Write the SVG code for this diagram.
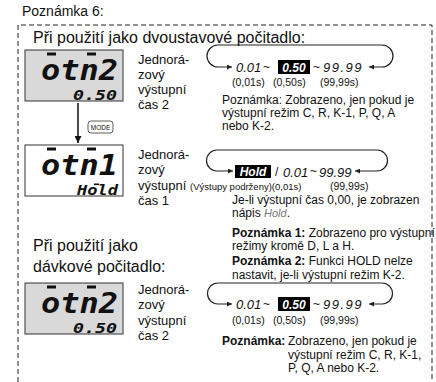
<svg xmlns="http://www.w3.org/2000/svg" width="436" height="382" viewBox="0 0 436 382">
<style>
.t{font-family:"Liberation Sans",Arial,sans-serif;fill:#111}
.h{font-size:16px}
.lb{font-size:13px}
.n{font-size:12px}
.p{font-size:10.5px}
.s{font-size:9.5px}
.b{font-weight:bold}
.seg{font-family:"DejaVu Sans Mono",monospace;font-style:oblique;font-weight:bold;fill:#111}
.v{font-family:"Liberation Sans",Arial,sans-serif;font-style:italic;font-size:13px;fill:#111}
.vw{font-family:"Liberation Sans",Arial,sans-serif;font-style:italic;font-weight:bold;font-size:12px;fill:#fff}
.disp{stroke:#333;stroke-width:1}
.gray{fill:#d9d9d9}
.white{fill:#fff}
.bar{fill:#111}
.loop{fill:none;stroke:#222;stroke-width:1.2;marker-start:url(#ah);marker-end:url(#ah)}
</style>
<defs>
<marker id="ah" viewBox="0 0 10 10" refX="10" refY="5" markerWidth="6" markerHeight="5" markerUnits="userSpaceOnUse" orient="auto-start-reverse">
<path d="M0,0 L10,5 L0,10 z" fill="#222"/>
</marker>
<marker id="ad" viewBox="0 0 10 10" refX="10" refY="5" markerWidth="8" markerHeight="7" markerUnits="userSpaceOnUse" orient="auto">
<path d="M0,0 L10,5 L0,10 z" fill="#111"/>
</marker>
</defs>

<text class="t" x="22" y="16" font-size="14">Poznámka 6:</text>
<path d="M18,382 V25 H432 V382" fill="none" stroke="#222" stroke-width="1" stroke-dasharray="5,3"/>
<text class="t h" x="33" y="43">Při použití jako dvoustavové počitadlo:</text>

<g id="display1">
<rect class="disp gray" x="25" y="50" width="98" height="51"/>
<rect class="bar" x="47" y="52.5" width="9" height="3"/>
<rect class="bar" x="87" y="52.5" width="9" height="3"/>
<text class="seg" x="41" y="80" font-size="28" textLength="77" lengthAdjust="spacingAndGlyphs">otn2</text>
<text class="seg" x="73" y="99.5" font-size="13.5" textLength="44" lengthAdjust="spacingAndGlyphs">0.50</text>
</g>
<g id="label1">
<text class="t lb" x="138" y="64">Jednorá-</text>
<text class="t lb" x="138" y="79">zový</text>
<text class="t lb" x="138" y="94">výstupní</text>
<text class="t lb" x="138" y="109">čas 2</text>
</g>

<g id="cycle1">
<text class="v" x="236" y="72">0.01</text>
<text class="t" x="263" y="71" font-size="12">~</text>
<rect x="278" y="60" width="32" height="14" fill="#000"/>
<text class="vw" x="294" y="71.5" text-anchor="middle">0.50</text>
<text class="t" x="313" y="71" font-size="12">~</text>
<text class="v" x="323" y="72" letter-spacing="1.5">99.99</text>
<text class="t p" x="232" y="86">(0,01s)</text>
<text class="t p" x="273" y="86">(0,50s)</text>
<text class="t p" x="320" y="86">(99,99s)</text>
</g>
<g id="note1">
<text class="t n" x="222" y="104">Poznámka: Zobrazeno, jen pokud je</text>
<text class="t n" x="222" y="117">výstupní režim C, R, K-1, P, Q, A</text>
<text class="t n" x="222" y="130">nebo K-2.</text>
</g>

<g id="mode">
<rect x="88" y="121" width="25" height="12" rx="3" fill="#fff" stroke="#333" stroke-width="0.8"/>
<text class="t" x="100.5" y="129.5" font-size="6.5" text-anchor="middle">MODE</text>
</g>

<g id="display2">
<rect class="disp white" x="25" y="145" width="98" height="51"/>
<rect class="bar" x="47" y="147.5" width="9" height="3"/>
<rect class="bar" x="87" y="147.5" width="9" height="3"/>
<text class="seg" x="41" y="175" font-size="28" textLength="77" lengthAdjust="spacingAndGlyphs">otn1</text>
<rect class="bar" x="94" y="183.5" width="5" height="1.6"/>
<text class="seg" x="77" y="194.5" font-size="13.5" textLength="41" lengthAdjust="spacingAndGlyphs">Hold</text>
</g>
<g id="label2">
<text class="t lb" x="138" y="159">Jednorá-</text>
<text class="t lb" x="138" y="174">zový</text>
<text class="t lb" x="138" y="190">výstupní</text>
<text class="t lb" x="138" y="205">čas 1</text>
</g>

<g id="cycle2">
<rect x="235" y="165" width="36" height="13" fill="#000"/>
<text class="vw" x="253" y="176" text-anchor="middle">Hold</text>
<text class="t" x="275" y="176" font-size="12">/</text>
<text class="v" x="283" y="176.5">0.01</text>
<text class="t" x="310" y="175" font-size="12">~</text>
<text class="v" x="319" y="176.5">99.99</text>
<text class="t s" x="190" y="190">(Výstupy podrženy)(0,01s)</text>
<text class="t p" x="330" y="190">(99,99s)</text>
</g>
<g id="note2">
<text class="t n" x="232" y="204">Je-li výstupní čas 0,00, je zobrazen</text>
<text class="t n" x="232" y="217">nápis <tspan font-style="italic" fill="#777" font-size="11">Hold</tspan>.</text>
<text class="t n" x="232" y="237"><tspan class="b">Poznámka 1:</tspan> Zobrazeno pro výstupní</text>
<text class="t n" x="232" y="250">režimy kromě D, L a H.</text>
<text class="t n" x="232" y="265"><tspan class="b">Poznámka 2:</tspan> Funkci HOLD nelze</text>
<text class="t n" x="232" y="279">nastavit, je-li výstupní režim K-2.</text>
</g>

<text class="t h" x="33" y="251">Při použití jako</text>
<text class="t h" x="33" y="272">dávkové počitadlo:</text>

<g id="display3">
<rect class="disp gray" x="25" y="283" width="98" height="51"/>
<rect class="bar" x="47" y="285.5" width="9" height="3"/>
<rect class="bar" x="87" y="285.5" width="9" height="3"/>
<text class="seg" x="41" y="313" font-size="28" textLength="77" lengthAdjust="spacingAndGlyphs">otn2</text>
<text class="seg" x="73" y="332.5" font-size="13.5" textLength="44" lengthAdjust="spacingAndGlyphs">0.50</text>
</g>
<g id="label3">
<text class="t lb" x="138" y="294">Jednorá-</text>
<text class="t lb" x="138" y="309">zový</text>
<text class="t lb" x="138" y="325">výstupní</text>
<text class="t lb" x="138" y="340">čas 2</text>
</g>

<g id="cycle3">
<text class="v" x="236" y="309">0.01</text>
<text class="t" x="263" y="308" font-size="12">~</text>
<rect x="278" y="297" width="32" height="14" fill="#000"/>
<text class="vw" x="294" y="308.5" text-anchor="middle">0.50</text>
<text class="t" x="313" y="308" font-size="12">~</text>
<text class="v" x="323" y="309" letter-spacing="1.5">99.99</text>
<text class="t p" x="232" y="324">(0,01s)</text>
<text class="t p" x="273" y="324">(0,50s)</text>
<text class="t p" x="320" y="324">(99,99s)</text>
</g>
<g id="note3">
<text class="t n b" x="222" y="345">Poznámka:</text>
<text class="t n" x="288" y="345">Zobrazeno, jen pokud je</text>
<text class="t n" x="288" y="359">výstupní režim C, R, K-1,</text>
<text class="t n" x="288" y="372">P, Q, A nebo K-2.</text>
</g>

<g id="connectors">
<path class="loop" d="M369,67 H382 A11,11 0 0 0 382,45 H218 A11,11 0 0 0 218,67 H232"/>
<path class="loop" d="M355,171 H377 A10.5,10.5 0 0 0 377,150 H217 A10.5,10.5 0 0 0 217,171 H233"/>
<path class="loop" d="M369,304 H382 A10.5,10.5 0 0 0 382,283 H218 A10.5,10.5 0 0 0 218,304 H232"/>
<path d="M78,103 V143" fill="none" stroke="#111" stroke-width="1.5" marker-end="url(#ad)"/>
</g>
</svg>
